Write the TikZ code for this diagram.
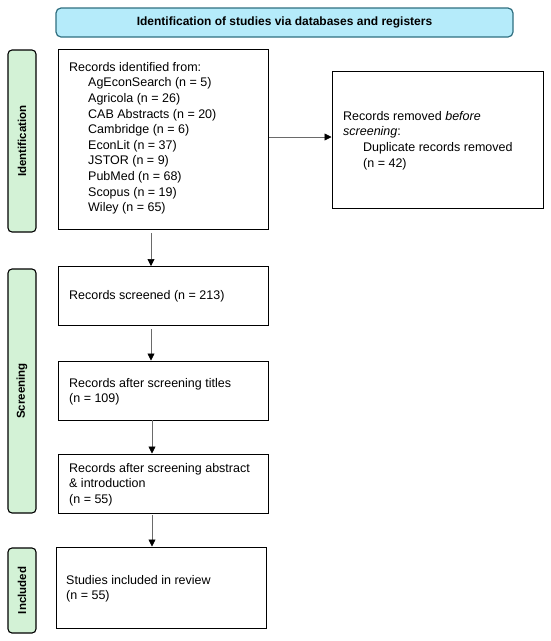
\documentclass[tikz,border=0pt]{standalone}
\usepackage{fontspec}
\setmainfont{Liberation Sans}
\usetikzlibrary{arrows.meta}
\definecolor{bannerfill}{HTML}{B5EBFA}
\definecolor{bannerdraw}{HTML}{2F6F80}
\definecolor{sidefill}{HTML}{D3F2D6}
\definecolor{arrowgrey}{HTML}{6A6A6A}
\begin{document}
\begin{tikzpicture}[x=1pt,y=-1pt,
  box/.style={draw=black,line width=1pt,inner sep=0pt},
  boxtext/.style={anchor=north west,inner sep=0pt,align=left,font=\fontsize{12.5}{15.6}\selectfont},
  sidelabel/.style={draw=black,line width=1.1pt,fill=sidefill,rounded corners=4pt},
  sidetext/.style={rotate=90,font=\fontsize{11.5}{13}\selectfont\bfseries,inner sep=0pt},
  flow/.style={draw=arrowgrey,line width=0.7pt,-{Triangle[length=7pt,width=7pt,black]}}]
\useasboundingbox (0,0) rectangle (550,641);
% banner
\draw[draw=bannerdraw,line width=1.2pt,fill=bannerfill,rounded corners=5pt] (56,8) rectangle (513,37);
\node[font=\fontsize{12}{14}\selectfont\bfseries] (banner) at (284.5,22.5) {Identification of studies via databases and registers};
% side labels
\draw[sidelabel] (8,50) rectangle (36,232);
\node[sidetext] (lid) at (22,141) {Identification};
\draw[sidelabel] (8,269) rectangle (36,513);
\node[sidetext] (lsc) at (22,391) {Screening};
\draw[sidelabel] (8,548) rectangle (36,633);
\node[sidetext] (lin) at (22,590.5) {Included};
% boxes
\node[box,minimum width=210pt,minimum height=180pt] (b1) at (163,139) {};
\node[boxtext] (t1) at (69,62) {Records identified from:\\
\hspace*{19pt}AgEconSearch (n = 5)\\
\hspace*{19pt}Agricola (n = 26)\\
\hspace*{19pt}CAB Abstracts (n = 20)\\
\hspace*{19pt}Cambridge (n = 6)\\
\hspace*{19pt}EconLit (n = 37)\\
\hspace*{19pt}JSTOR (n = 9)\\
\hspace*{19pt}PubMed (n = 68)\\
\hspace*{19pt}Scopus (n = 19)\\
\hspace*{19pt}Wiley (n = 65)};
\node[box,minimum width=211pt,minimum height=137pt] (br) at (437.5,139.5) {};
\node[boxtext] (tr) at (343,111) {Records removed \textit{before}\\
\textit{screening}:\\
\hspace*{20pt}Duplicate records removed\\
\hspace*{20pt}(n = 42)};
\node[box,minimum width=210pt,minimum height=59pt] (b2) at (163,295.5) {};
\node[boxtext] (t2) at (69,290) {Records screened (n = 213)};
\node[box,minimum width=210pt,minimum height=59pt] (b3) at (163,390.5) {};
\node[boxtext] (t3) at (69,378) {Records after screening titles\\(n = 109)};
\node[box,minimum width=210pt,minimum height=59pt] (b4) at (163,483.5) {};
\node[boxtext] (t4) at (69,463) {Records after screening abstract\\\& introduction\\(n = 55)};
\node[box,minimum width=210pt,minimum height=81pt] (b5) at (161,587.5) {};
\node[boxtext] (t5) at (66,575) {Studies included in review\\(n = 55)};
% arrows
\coordinate (a1s) at (151,233);
\coordinate (a1e) at (151,266);
\draw[flow] (a1s) -- (a1e);
\coordinate (a2s) at (151,329);
\coordinate (a2e) at (151,360.5);
\draw[flow] (a2s) -- (a2e);
\coordinate (a3s) at (152,420);
\coordinate (a3e) at (152,453.5);
\draw[flow] (a3s) -- (a3e);
\coordinate (a4s) at (152,515);
\coordinate (a4e) at (152,546.5);
\draw[flow] (a4s) -- (a4e);
\draw[flow] (b1.east |- 0,137) -- (br.west |- 0,137);
\end{tikzpicture}
\end{document}
